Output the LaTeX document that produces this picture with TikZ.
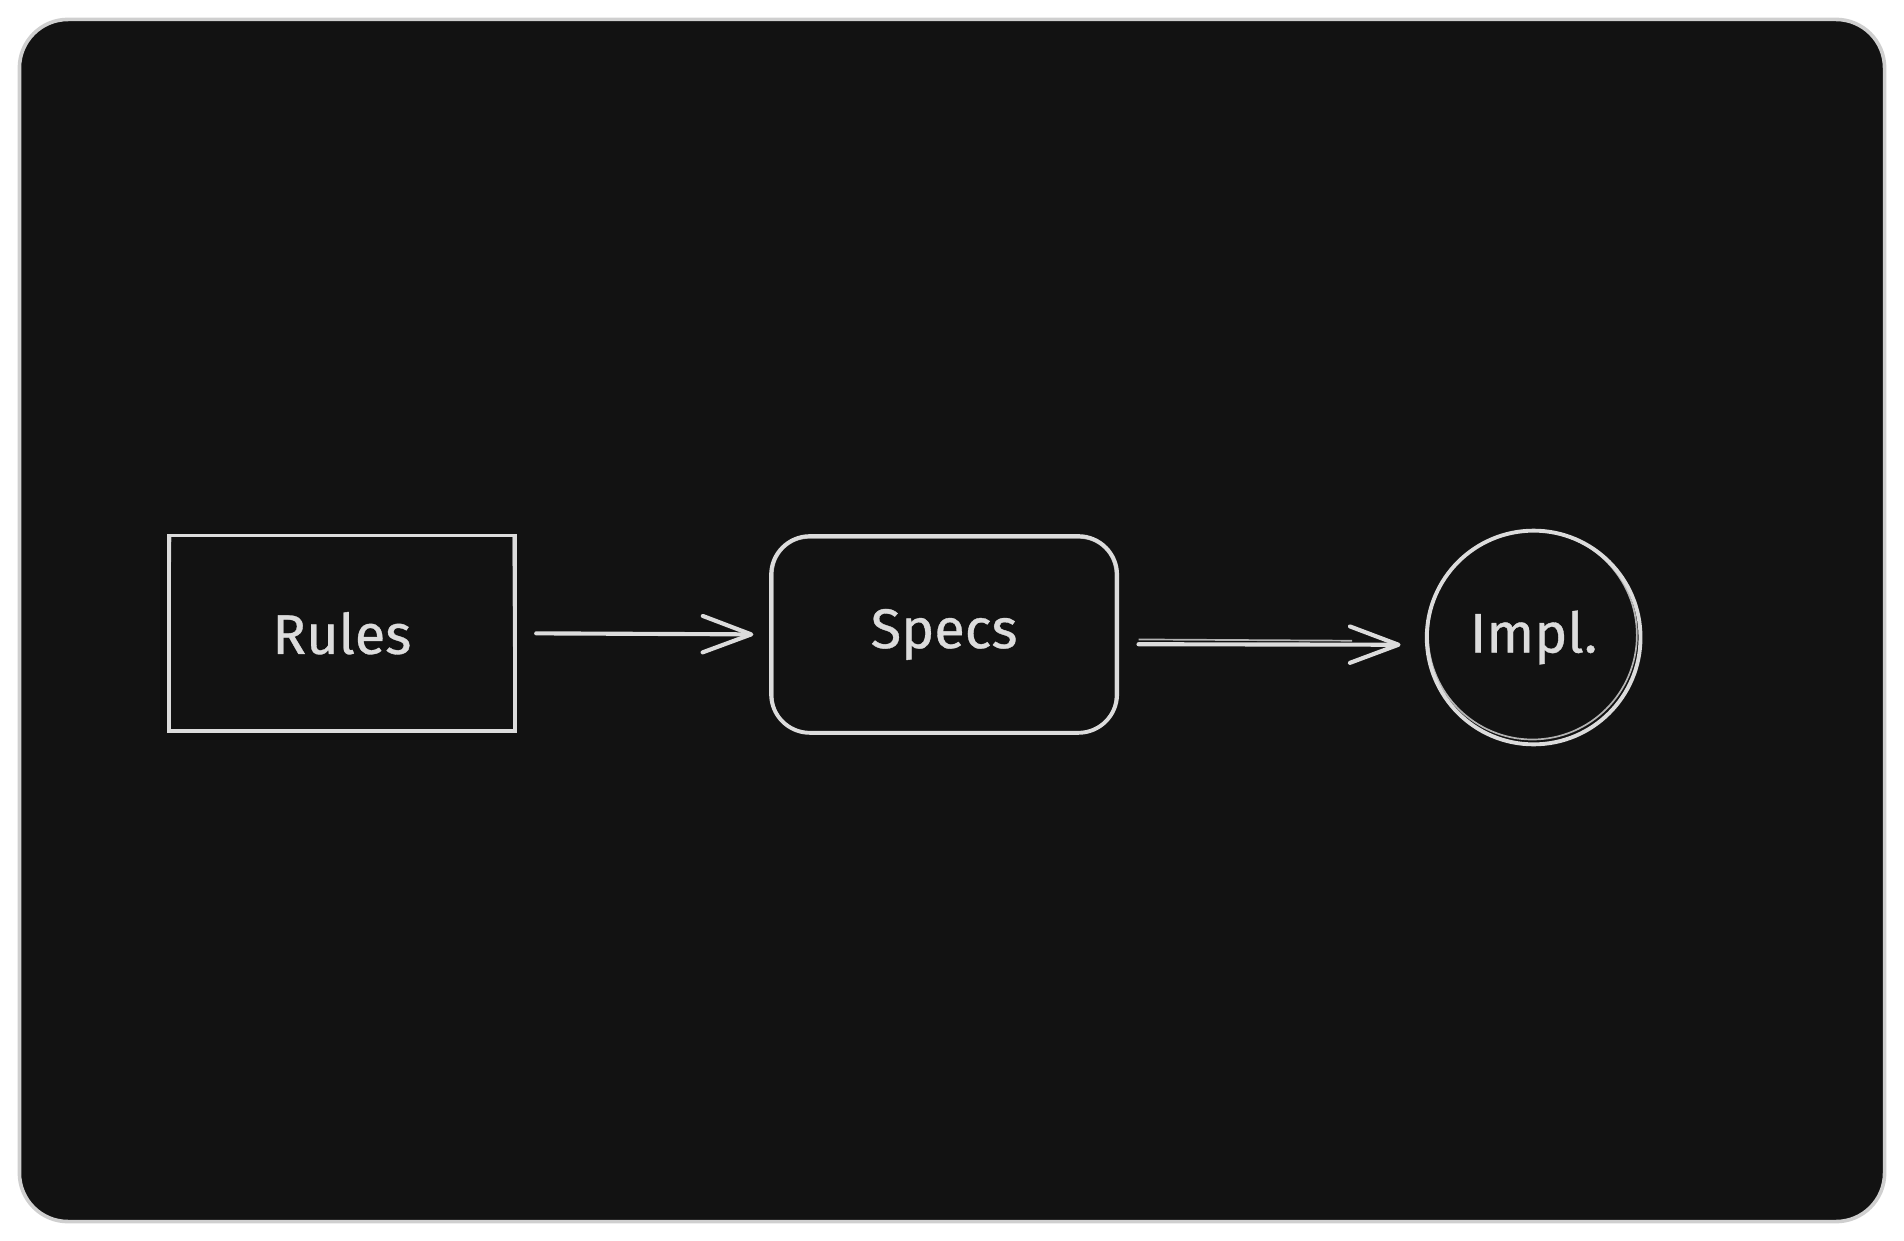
\documentclass[tikz,border=0pt]{standalone}
\usepackage{fontspec}
\setmainfont{Fira Sans}[FakeBold=0.6]
\usetikzlibrary{arrows.meta}
\definecolor{bgdark}{HTML}{121212}
\definecolor{ink}{HTML}{DCDCDC}
\definecolor{frame}{HTML}{CFCFCF}
\tikzset{
  shapebox/.style={draw=ink, line width=3.2pt, text=ink, font=\fontsize{46}{50}\selectfont, inner sep=0pt},
  sk/.style={draw=ink, line width=1.4pt, opacity=0.8},
  arr/.style={draw=ink, line width=3.4pt, line cap=round, -{Straight Barb[length=40pt,width=30pt,round]}},
}
\begin{document}
\begin{tikzpicture}[x=1pt,y=-1pt]
\useasboundingbox (0,0) rectangle (1568,1022);
\fill[white] (0,0) rectangle (1568,1022);
\draw[draw=frame, line width=3pt, fill=bgdark, rounded corners=40pt] (16,16) rectangle (1552,1006);

\node[shapebox, rectangle, minimum width=285pt, minimum height=161pt] (rules) at (281.5,521.5) {Rules};
\node[shapebox, rectangle, rounded corners=32pt, minimum width=285pt, minimum height=162pt] (specs) at (777.5,522.5) {Specs};
\node[shapebox, circle, minimum size=176pt] (impl) at (1263,525) {Impl.};

% sketchy second strokes
\draw[sk] ([shift={(3,1)}]rules.north west) -- ([shift={(1,-2)}]rules.south west);
\draw[sk] ([shift={(1,-1)}]rules.south west) -- ([shift={(-2,-2)}]rules.south east);
\draw[sk] ([shift={(-3,2)}]rules.north east) -- ([shift={(-2,-1)}]rules.south east);
\draw[sk, rounded corners=30pt] ([shift={(3,3)}]specs.north west) rectangle ([shift={(-3,-2)}]specs.south east);
\draw[sk] ([shift={(-1,-2)}]impl.center) circle[radius=86pt];

\draw[arr, shorten <=16pt, shorten >=13pt] (rules.east) -- (specs.west);
\draw[arr, shorten <=16pt, shorten >=20pt] ([yshift=-8pt]specs.east) -- ([yshift=-6pt]impl.west);
\draw[sk, shorten <=16pt, shorten >=60pt] ([yshift=-4pt]specs.east) -- ([yshift=-3pt]impl.west);
\end{tikzpicture}
\end{document}
